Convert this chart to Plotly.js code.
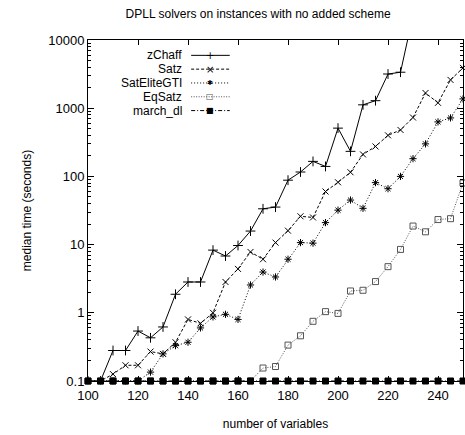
<!DOCTYPE html>
<html>
<head>
<meta charset="utf-8">
<script src="https://cdn.plot.ly/plotly-3.0.1.min.js"></script>
<style>html,body{margin:0;padding:0;background:#fff;}#chart{width:465px;height:435px;}</style>
</head>
<body>
<div id="chart"></div>
<script>
// ---- data ----
const variables = [100,105,110,115,120,125,130,135,140,145,150,155,160,165,170,175,180,185,190,195,200,205,210,215,220,225,230,235,240,245,250];
const zChaff = [0.1,0.1,0.28,0.28,0.54,0.43,0.62,1.87,2.83,2.83,8.3,6.8,9.7,15.8,33.5,35.5,88,116,166,140,510,233,1120,1290,3170,3370,23000];
const satz = [0.1,0.1,0.126,0.17,0.17,0.27,0.25,0.37,0.8,0.7,1.0,2.83,4.4,7.8,6.1,10.7,16,26,25,60,82,115,210,275,400,480,730,1670,1200,2600,3900];
const satElite = [0.1,0.1,0.1,0.1,0.1,0.135,0.25,0.33,0.37,0.6,0.87,0.95,0.8,2.56,3.96,3.35,6.1,10.7,10.5,21,32,45,34,81,66,100,182,300,630,720,1370];
const eqSatz = [0.1,0.1,0.1,0.1,0.1,0.1,0.1,0.1,0.1,0.1,0.1,0.1,0.1,0.1,0.155,0.163,0.336,0.46,0.75,1.04,0.98,2.09,2.14,2.87,4.75,8.5,18.7,15.4,23.3,24,80];
const marchDl = [0.1,0.1,0.1,0.1,0.1,0.1,0.1,0.1,0.1,0.1,0.1,0.1,0.1,0.1,0.1,0.1,0.1,0.1,0.1,0.1,0.1,0.1,0.1,0.1,0.1,0.1,0.1,0.1,0.1,0.1,0.1];
const seriesNames = ["zChaff","Satz","SatEliteGTI","EqSatz","march_dl"];
const xTicks = [100,120,140,160,180,200,220,240];
const yTickVals = [0.1,1,10,100,1000,10000];
const yTickText = ["0.1","1","10","100","1000","10000"];
const titleText = "DPLL solvers on instances with no added scheme";
const xTitle = "number of variables";
const yTitle = "median time (seconds)";

// ---- styles ----
const styles = [
  {color:"#000", dash:"solid", symbol:"cross-thin-open", size:7, legendChar:"+"},
  {color:"#000", dash:"3px,2px", symbol:"x-thin-open", size:6, legendChar:"×"},
  {color:"#000", dash:"1px,2px", symbol:"asterisk-open", size:6, legendChar:"✱"},
  {color:"#555", dash:"1px,1.5px", symbol:"square-open", size:6, legendChar:"□"},
  {color:"#000", dash:"4px,2px,1px,2px", symbol:"square", size:6, legendChar:"■"}
];
const ys = [zChaff, satz, satElite, eqSatz, marchDl];

const traces = ys.map((y,i)=>({
  type:"scatter", mode:"lines+markers", name:seriesNames[i],
  x: variables.slice(0,y.length), y:y,
  line:{color:styles[i].color, width:1, dash:styles[i].dash},
  marker:{symbol:styles[i].symbol, size:styles[i].size, color:styles[i].color, line:{color:styles[i].color, width:1}},
  cliponaxis: i===0 ? true : false,
  showlegend:false, hoverinfo:"skip"
}));

// custom gnuplot-style legend (text right-aligned, sample to the right)
const shapes = [], annotations = [];
const legTextX = 0.255, legL = 0.275, legR = 0.378;
const rowTop = 0.955, rowStep = 0.0405;
seriesNames.forEach((n,i)=>{
  const yy = rowTop - i*rowStep;
  annotations.push({xref:"paper", yref:"paper", x:legTextX, y:yy, text:n, showarrow:false,
    xanchor:"right", yanchor:"middle", font:{family:"Liberation Sans, Arial, sans-serif", size:12, color:"#000"}});
  shapes.push({type:"line", xref:"paper", yref:"paper", x0:legL, x1:legR, y0:yy, y1:yy,
    line:{color:styles[i].color, width:1, dash:styles[i].dash}});
  annotations.push({xref:"paper", yref:"paper", x:(legL+legR)/2, y:yy, text:styles[i].legendChar, showarrow:false,
    xanchor:"center", yanchor:"middle", bgcolor:"rgba(0,0,0,0)",
    font:{family:"DejaVu Sans, sans-serif", size: i===2?7:(i>=3?8:10), color:styles[i].color}});
});

const fontFam = "Liberation Sans, Arial, Helvetica, sans-serif";
const layout = {
  width:465, height:435,
  margin:{l:88, r:2, t:40, b:54, pad:0},
  paper_bgcolor:"#fff", plot_bgcolor:"#fff",
  font:{family:fontFam, color:"#000", size:13},
  title:{text:titleText, font:{family:fontFam, size:12, color:"#000"}, x:0.555, xanchor:"center", y:0.968, yanchor:"middle"},
  xaxis:{range:[100,250], tickvals:xTicks, ticks:"inside", ticklen:5, tickcolor:"#000", tickwidth:1,
    showline:true, linecolor:"#000", linewidth:1, mirror:"ticks", showgrid:false, zeroline:false,
    tickfont:{family:fontFam, size:13}, ticklabelstandoff:2,
    title:{text:xTitle, font:{family:fontFam, size:12}, standoff:18}},
  yaxis:{type:"log", range:[-1,4], tickvals:yTickVals, ticktext:yTickText, ticks:"inside", ticklen:6, tickcolor:"#000", tickwidth:1,
    showline:true, linecolor:"#000", linewidth:1, mirror:"ticks", showgrid:false, zeroline:false,
    tickfont:{family:fontFam, size:13},
    minor:{ticks:"inside", ticklen:3, tickcolor:"#000", dtick:"D1", showgrid:false},
    title:{text:yTitle, font:{family:fontFam, size:12}, standoff:14}},
  shapes:shapes, annotations:annotations, showlegend:false
};
Plotly.newPlot("chart", traces, layout, {staticPlot:true, displayModeBar:false});
</script>
</body>
</html>
